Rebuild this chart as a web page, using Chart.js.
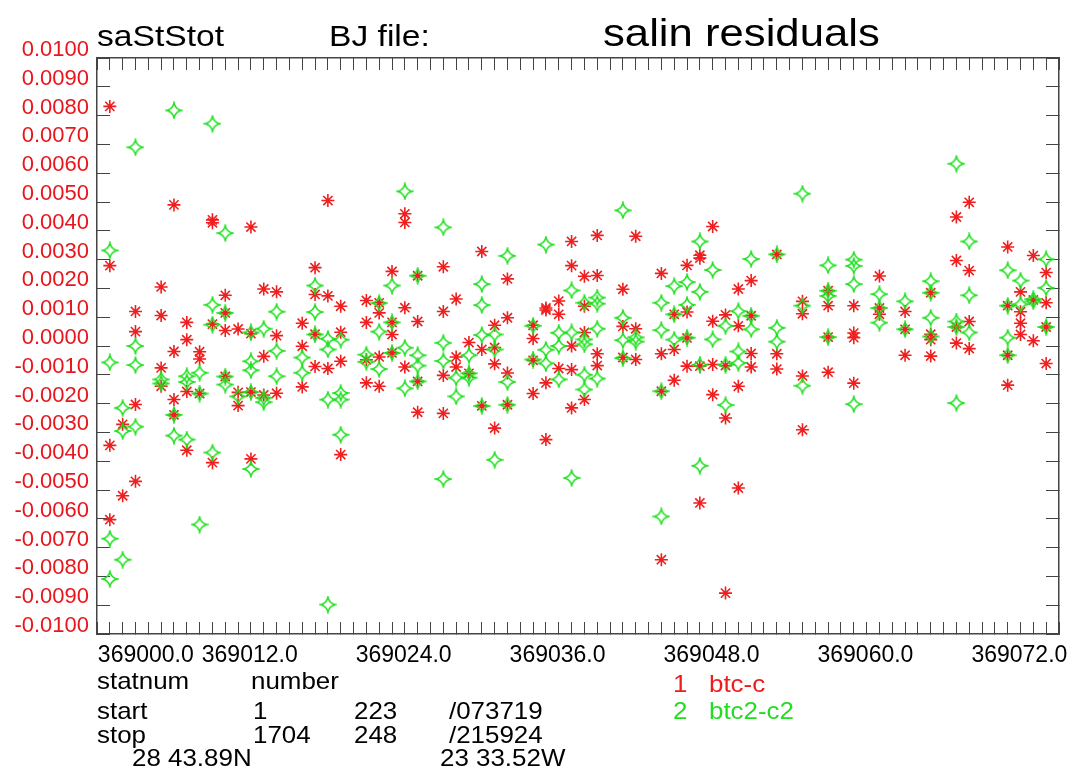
<!DOCTYPE html>
<html lang="en">
<head>
    <meta charset="UTF-8">
    <title>salin residuals</title>
    <script src="https://cdn.jsdelivr.net/npm/chart.js"></script>
    <style>
        body {
            margin: 0;
            background: #fff;
            font-family: "Liberation Sans", Arial, sans-serif;
        }
        .page {
            position: relative;
            width: 1074px;
            height: 774px;
            overflow: hidden;
        }
        #residChart { position: absolute; left: 0; top: 0; }
        .txt {
            position: absolute;
            white-space: nowrap;
            line-height: 1;
            color: #000;
            transform-origin: left top;
        }
        .ttl { font-size: 30px; top: 21px; transform: scaleX(1.12); }
        .ttl-big { font-size: 39px; top: 13px; transform: scaleX(1.12); }
        .info { font-size: 24px; transform: scaleX(1.08); }
        .red { color: #ee1c1c; }
        .green { color: #22dd22; }
    </style>
</head>
<body>
<div class="page">
    <canvas id="residChart" width="1074" height="774"></canvas>

    <div class="txt ttl" style="left:97px">saStStot</div>
    <div class="txt ttl" style="left:329px">BJ file:</div>
    <div class="txt ttl-big" style="left:603px">salin residuals</div>

    <div class="txt info" style="left:97px; top:669px">statnum</div>
    <div class="txt info" style="left:251px; top:669px">number</div>
    <div class="txt info" style="left:97px; top:699px">start</div>
    <div class="txt info" style="left:253px; top:699px">1</div>
    <div class="txt info" style="left:354px; top:699px">223</div>
    <div class="txt info" style="left:449px; top:699px">/073719</div>
    <div class="txt info" style="left:97px; top:723px">stop</div>
    <div class="txt info" style="left:253px; top:723px">1704</div>
    <div class="txt info" style="left:354px; top:723px">248</div>
    <div class="txt info" style="left:449px; top:723px">/215924</div>
    <div class="txt info" style="left:132px; top:746px">28 43.89N</div>
    <div class="txt info" style="left:440px; top:746px">23 33.52W</div>

    <div class="txt info red" style="left:673px; top:672px">1</div>
    <div class="txt info red" style="left:709px; top:672px">btc-c</div>
    <div class="txt info green" style="left:673px; top:699px">2</div>
    <div class="txt info green" style="left:709px; top:699px">btc2-c2</div>
</div>

<script>
    // station numbers (x) and residuals per station for each series
    const stations = [369000, 369001, 369002, 369004, 369005, 369006, 369007, 369008, 369009, 369010,
        369011, 369012, 369013, 369015, 369016, 369017, 369018, 369020, 369021, 369022,
        369023, 369024, 369026, 369027, 369028, 369029, 369030, 369031, 369033, 369034,
        369035, 369036, 369037, 369038, 369040, 369041, 369043, 369044, 369045, 369046,
        369047, 369048, 369049, 369050, 369052, 369054, 369056, 369058, 369060, 369062,
        369064, 369066, 369067, 369070, 369071, 369072, 369073];

    const btcC = [
        [0.00832, 0.00279, -0.00345, -0.00603],
        [-0.00272, -0.00520],
        [0.00120, 0.00050, -0.00203, -0.00470],
        [0.00205, 0.00106, -0.00076, -0.00140],
        [0.00490, -0.00019, -0.00186, -0.00239],
        [0.00082, 0.00022, -0.00158, -0.00362],
        [-0.00020, -0.00045, -0.00165],
        [0.00438, 0.00428, 0.00076, -0.00405],
        [0.00176, 0.00115, 0.00054, -0.00106],
        [0.00059, -0.00161, -0.00207],
        [0.00413, 0.00043, -0.00160, -0.00392],
        [0.00198, -0.00036, -0.00170],
        [0.00188, 0.00036, -0.00164],
        [0.00079, -0.00001, -0.00142],
        [0.00272, 0.00179, 0.00041, -0.00071],
        [0.00505, 0.00174, -0.00078],
        [0.00138, 0.00048, -0.00053, -0.00377],
        [0.00158, 0.00082, -0.00048, -0.00128],
        [0.00150, 0.00115, -0.00038, -0.00140],
        [0.00259, 0.00082, 0.00040, -0.00024],
        [0.00459, 0.00429, 0.00133, -0.00073],
        [0.00244, 0.00085, -0.00123, -0.00230],
        [0.00275, 0.00120, -0.00102, -0.00234],
        [0.00163, -0.00038, -0.00073],
        [0.00012, -0.00095],
        [0.00328, -0.00012, -0.00208],
        [0.00072, -0.00005, -0.00062, -0.00285],
        [0.00233, 0.00098, -0.00094, -0.00204],
        [0.00072, 0.00026, -0.00050, -0.00165],
        [0.00132, 0.00125, -0.00128, -0.00325],
        [0.00156, 0.00110, -0.00078],
        [0.00363, 0.00279, 0.00000, -0.00082, -0.00215],
        [0.00242, 0.00138, 0.00047, -0.00186],
        [0.00384, 0.00245, -0.00027, -0.00068],
        [0.00197, 0.00068, -0.00040],
        [0.00381, 0.00060, -0.00047],
        [0.00252, -0.00027, -0.00157, -0.00742],
        [0.00110, -0.00012, -0.00119],
        [0.00280, 0.00118, 0.00028, -0.00070],
        [0.00315, 0.00305, -0.00070, -0.00545],
        [0.00415, 0.00086, -0.00064, -0.00169],
        [0.00108, -0.00068, -0.00250, -0.00858],
        [0.00198, 0.00070, -0.00140, -0.00493],
        [0.00227, 0.00105, -0.00026, -0.00073],
        [0.00318, -0.00027, -0.00080],
        [0.00155, 0.00112, -0.00104, -0.00291],
        [0.00192, 0.00140, 0.00031, -0.00091],
        [0.00140, 0.00045, 0.00029, -0.00129],
        [0.00243, 0.00132, 0.00110],
        [0.00120, 0.00058, -0.00032],
        [0.00185, 0.00041, 0.00022, -0.00035],
        [0.00448, 0.00297, 0.00066, 0.00010],
        [0.00499, 0.00262, 0.00085, -0.00009],
        [0.00344, 0.00140, -0.00032, -0.00136],
        [0.00188, 0.00119, 0.00079, 0.00040],
        [0.00314, 0.00160, 0.00018],
        [0.00255, 0.00150, 0.00066, -0.00061]
    ];

    const btc2C2 = [
        [0.00332, -0.00057, -0.00669, -0.00809],
        [-0.00215, -0.00295, -0.00742],
        [0.00690, 0.00000, -0.00066, -0.00280],
        [-0.00116, -0.00130],
        [0.00818, -0.00239, -0.00311],
        [-0.00105, -0.00125, -0.00325],
        [-0.00093, -0.00165, -0.00620],
        [0.00772, 0.00143, 0.00074, -0.00370],
        [0.00392, 0.00115, -0.00106, -0.00134],
        [-0.00175],
        [0.00047, -0.00053, -0.00084, -0.00160, -0.00427],
        [0.00060, -0.00180, -0.00195],
        [0.00119, -0.00017, -0.00105],
        [-0.00040, -0.00093],
        [0.00210, 0.00118, 0.00040],
        [0.00025, -0.00012, -0.00186, -0.00898],
        [0.00022, -0.00163, -0.00186, -0.00308],
        [-0.00030, -0.00055],
        [0.00149, 0.00050, -0.00080],
        [0.00210, 0.00082, -0.00024],
        [0.00537, -0.00006, -0.00147],
        [0.00244, -0.00032, -0.00068, -0.00123],
        [0.00412, 0.00011, -0.00052, -0.00462],
        [-0.00110, -0.00175],
        [-0.00032, -0.00095, -0.00110],
        [0.00215, 0.00142, 0.00038, -0.00208],
        [0.00040, -0.00012, -0.00395],
        [0.00313, -0.00125, -0.00204],
        [0.00070, -0.00047],
        [0.00352, -0.00013, -0.00060],
        [0.00046, 0.00000, -0.00116],
        [0.00193, 0.00047, -0.00458],
        [0.00150, 0.00023, 0.00006, -0.00100, -0.00151],
        [0.00168, 0.00147, 0.00060, -0.00113],
        [0.00471, 0.00098, 0.00020, -0.00042],
        [0.00030, 0.00015],
        [0.00150, 0.00055, -0.00157, -0.00592],
        [0.00208, 0.00110, 0.00022],
        [0.00222, 0.00143, 0.00029],
        [0.00363, 0.00188, -0.00065, -0.00416],
        [0.00264, 0.00023],
        [0.00070, -0.00065, -0.00205],
        [0.00121, -0.00019, -0.00059],
        [0.00302, 0.00105, 0.00058],
        [0.00318, 0.00063, 0.00015],
        [0.00529, 0.00140, -0.00138],
        [0.00280, 0.00192, 0.00174, 0.00031],
        [0.00300, 0.00278, 0.00215, -0.00202],
        [0.00180, 0.00132, 0.00081],
        [0.00155, 0.00058],
        [0.00225, 0.00185, 0.00098, 0.00033],
        [0.00633, 0.00085, 0.00066, -0.00198],
        [0.00363, 0.00176, 0.00047],
        [0.00263, 0.00140, 0.00029, -0.00032],
        [0.00227, 0.00145],
        [0.00163, 0.00155],
        [0.00301, 0.00202, 0.00066]
    ];

    // labelled stations on the x axis
    const xTickStations = [369000, 369012, 369024, 369036, 369048, 369060, 369072];
    const xTickText = ['369000.0', '369012.0', '369024.0', '369036.0', '369048.0', '369060.0', '369072.0'];

    const xMin = 368999, xMax = 369074;
    const yMin = -0.01, yMax = 0.01;

    const RED = '#f01e1e';
    const GREEN = '#1fe01f';
    const AXIS = '#444';
    const tickFont = { family: "'Liberation Sans', Arial, sans-serif", size: 23 };

    function toPoints(groups) {
        const pts = [];
        stations.forEach((s, i) => groups[i].forEach(v => pts.push({ x: s, y: v })));
        return pts;
    }

    // hollow four pointed star used for the second series
    function fourStar(color) {
        const c = document.createElement('canvas');
        c.width = 18; c.height = 18;
        const g = c.getContext('2d');
        const m = 9, r = 7.4, k = 1.4;
        g.strokeStyle = color;
        g.lineWidth = 1.6;
        g.beginPath();
        g.moveTo(m, m - r);
        g.quadraticCurveTo(m + k, m - k, m + r, m);
        g.quadraticCurveTo(m + k, m + k, m, m + r);
        g.quadraticCurveTo(m - k, m + k, m - r, m);
        g.quadraticCurveTo(m - k, m - k, m, m - r);
        g.closePath();
        g.stroke();
        return c;
    }

    // first label sits on its own axis (it is shifted the other way in the original)
    function labelFor(v, first) {
        const i = xTickStations.indexOf(Math.round(v));
        if (i < 0) return '';
        if (first ? i !== 0 : i === 0) return '';
        return xTickText[i];
    }

    const xTicks = { drawOnChartArea: false, drawTicks: true, tickLength: -12, color: AXIS, lineWidth: 1 };
    const yTicks = { drawOnChartArea: false, drawTicks: true, tickLength: -13, color: AXIS, lineWidth: 1 };
    const frame = { display: true, color: AXIS, width: 1.5 };

    new Chart(document.getElementById('residChart'), {
        type: 'scatter',
        data: {
            datasets: [
                {
                    label: 'btc2-c2',
                    data: toPoints(btc2C2),
                    pointStyle: fourStar(GREEN),
                    pointRadius: 7,
                    order: 0
                },
                {
                    label: 'btc-c',
                    data: toPoints(btcC),
                    pointStyle: 'star',
                    pointRadius: 6.5,
                    pointBorderColor: RED,
                    pointBackgroundColor: 'rgba(0,0,0,0)',
                    pointBorderWidth: 1.6,
                    order: 1
                }
            ]
        },
        options: {
            responsive: false,
            animation: false,
            clip: false,
            layout: { padding: { left: 0, top: 58, right: 15, bottom: 0 } },
            plugins: {
                legend: { display: false },
                tooltip: { enabled: false }
            },
            scales: {
                x3: {
                    type: 'linear', position: 'bottom', weight: -1,
                    min: xMin, max: xMax,
                    grid: { display: false, drawTicks: false },
                    border: { display: false },
                    ticks: {
                        stepSize: 1, autoSkip: false, maxRotation: 0, minRotation: 0,
                        mirror: true, padding: -35, labelOffset: 36, color: '#000', font: tickFont,
                        callback: v => labelFor(v, true)
                    },
                    afterFit: s => { s.height = 0; }
                },
                x: {
                    type: 'linear', position: 'bottom', weight: 0,
                    min: xMin, max: xMax,
                    grid: xTicks, border: frame,
                    ticks: {
                        stepSize: 1, autoSkip: false, maxRotation: 0, minRotation: 0,
                        mirror: true, padding: -35, labelOffset: -14, color: '#000', font: tickFont,
                        callback: v => labelFor(v, false)
                    },
                    afterFit: s => { s.height = 140; }
                },
                x2: {
                    type: 'linear', position: 'top',
                    min: xMin, max: xMax,
                    grid: xTicks, border: frame,
                    ticks: { stepSize: 1, display: false },
                    afterFit: s => { s.height = 0; }
                },
                y: {
                    type: 'linear', position: 'left',
                    min: yMin, max: yMax,
                    grid: yTicks, border: frame,
                    ticks: {
                        stepSize: 0.001, autoSkip: false, padding: 21, labelOffset: -8,
                        color: '#e8161c', font: { family: tickFont.family, size: 22 },
                        callback: v => Math.abs(v) < 1e-9 ? '0.0000' : v.toFixed(4)
                    },
                    afterFit: s => { s.width = 97; }
                },
                y2: {
                    type: 'linear', position: 'right',
                    min: yMin, max: yMax,
                    grid: yTicks, border: frame,
                    ticks: { stepSize: 0.001, display: false },
                    afterFit: s => { s.width = 0; }
                }
            }
        }
    });
</script>
</body>
</html>
